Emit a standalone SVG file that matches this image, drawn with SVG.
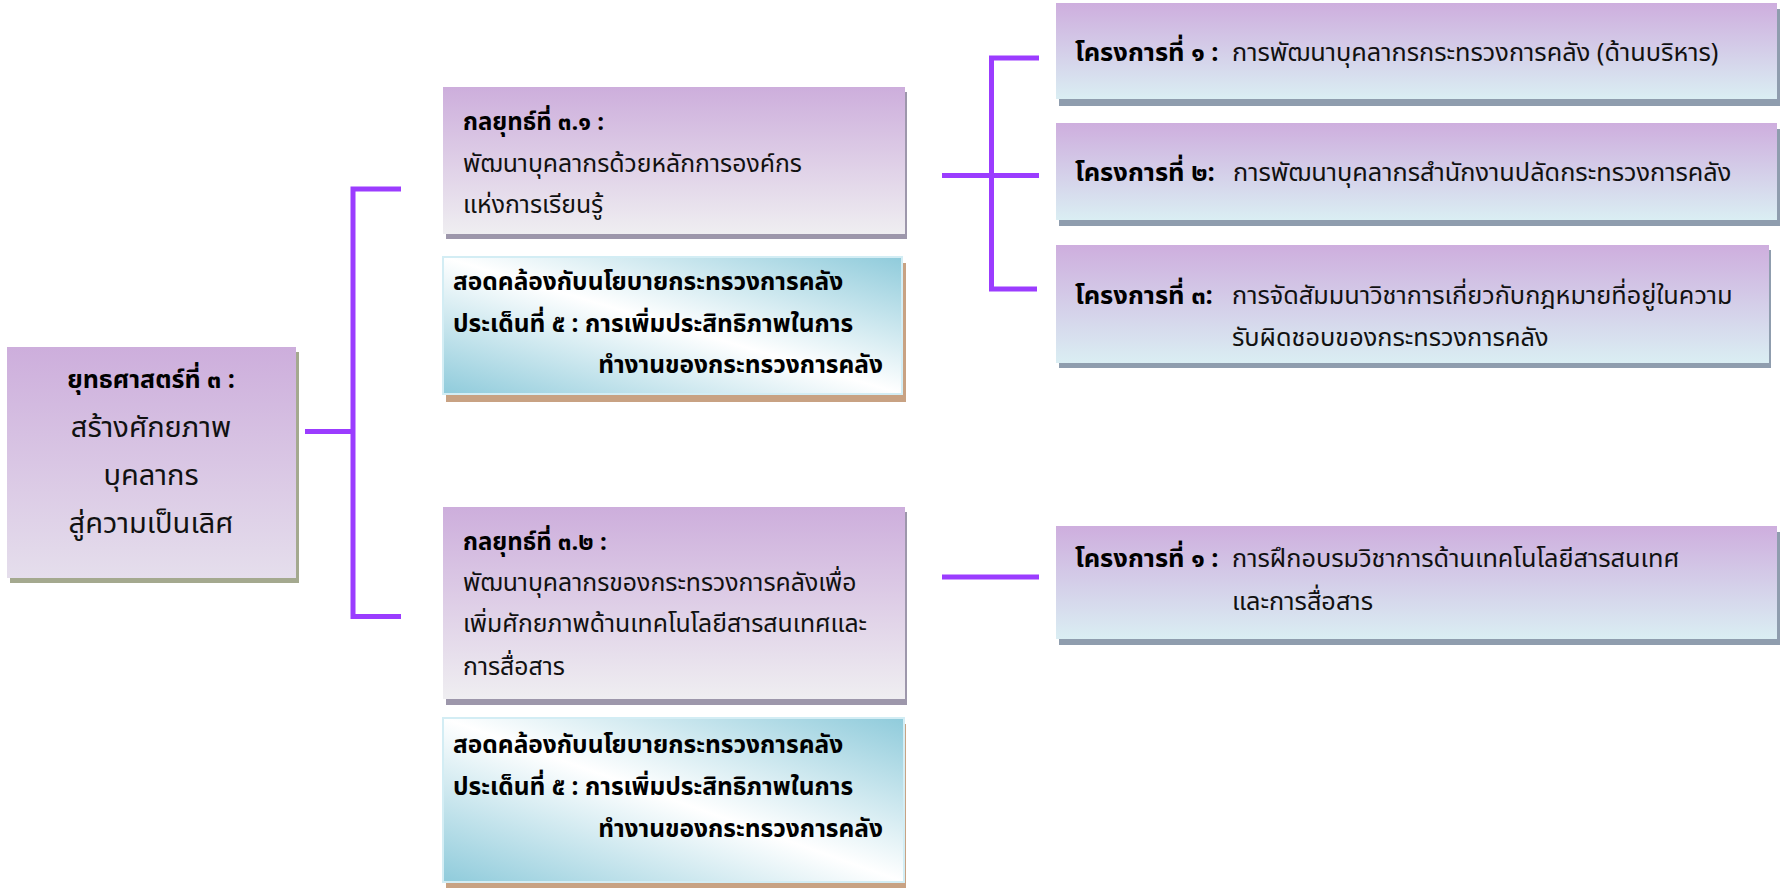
<svg xmlns="http://www.w3.org/2000/svg" width="1780" height="889" viewBox="0 0 1780 889">
<defs>
<linearGradient id="gLeft" x1="0" y1="0" x2="0" y2="1"><stop offset="0" stop-color="#CDAEDC"/><stop offset="1" stop-color="#E5DEEC"/></linearGradient>
<linearGradient id="gStrat" x1="0" y1="0" x2="0" y2="1"><stop offset="0" stop-color="#CDAEDC"/><stop offset="1" stop-color="#EFEEF1"/></linearGradient>
<linearGradient id="gProj" x1="0" y1="0" x2="0" y2="1"><stop offset="0" stop-color="#CEAEDE"/><stop offset="1" stop-color="#DAEEF3"/></linearGradient>
<linearGradient id="gPolicy" x1="0" y1="1" x2="1" y2="0"><stop offset="0" stop-color="#8FCBDB"/><stop offset="0.5" stop-color="#FFFFFF"/><stop offset="1" stop-color="#8FCBDB"/></linearGradient>
</defs>
<style>
text{font-family:"Noto Sans Thai","Noto Sans Thai Looped","Noto Sans","DejaVu Sans",sans-serif;fill:#111;}
.t{font-size:24.8px;}
.tj{font-size:25.3px;}
.tb{font-size:24px;font-weight:bold;fill:#000;}
.jb{font-size:25.5px;font-weight:bold;fill:#000;}
.lb{font-size:25px;font-weight:bold;fill:#000;}
.pb{font-size:24.5px;font-weight:bold;fill:#000;}
.big{font-size:29px;}
.conn{fill:none;stroke:#9B3CFF;stroke-width:5;stroke-linecap:butt;stroke-linejoin:miter;}
.shL{fill:#A4A98F;}
.shS{fill:#9D97AB;}
.shP{fill:#C8A283;}
.shJ{fill:#8F9DAE;}
</style>
<rect width="1780" height="889" fill="#FFFFFF"/>

<g id="connectors">
<path class="conn" d="M305,431.5 H353"/>
<path class="conn" d="M401,189 H353 V616.5 H401"/>
<path class="conn" d="M942,175.5 H1039"/>
<path class="conn" d="M1039,58 H991.5 V289 H1037"/>
<path class="conn" d="M942,577 H1039"/>
</g>

<g id="strategy3">
<rect class="shL" x="10" y="352" width="289" height="231"/>
<rect x="7" y="347" width="289" height="231" fill="url(#gLeft)"/>
<text class="lb" x="151" y="388" text-anchor="middle">ยุทธศาสตร์ที่ ๓ :</text>
<text class="big" x="151" y="437" text-anchor="middle">สร้างศักยภาพ</text>
<text class="big" x="151" y="485" text-anchor="middle">บุคลากร</text>
<text class="big" x="151" y="533" text-anchor="middle">สู่ความเป็นเลิศ</text>
</g>

<g id="tactic31">
<rect class="shS" x="446" y="92" width="461" height="147"/>
<rect x="443" y="87" width="462" height="147" fill="url(#gStrat)"/>
<text class="tb" x="463" y="130">กลยุทธ์ที่ ๓.๑ :</text>
<text class="t" x="463" y="172">พัฒนาบุคลากรด้วยหลักการองค์กร</text>
<text class="t" x="463" y="213">แห่งการเรียนรู้</text>
</g>

<g id="policy1">
<rect class="shP" x="446" y="263" width="460" height="139"/>
<rect x="443" y="257" width="459" height="137" fill="url(#gPolicy)" stroke="#D3EDF4" stroke-width="2"/>
<text class="pb" x="453" y="290">สอดคล้องกับนโยบายกระทรวงการคลัง</text>
<text class="pb" x="453" y="332">ประเด็นที่ ๕ : การเพิ่มประสิทธิภาพในการ</text>
<text class="pb" x="883" y="373" text-anchor="end">ทำงานของกระทรวงการคลัง</text>
</g>

<g id="tactic32">
<rect class="shS" x="446" y="512" width="461" height="193"/>
<rect x="443" y="507" width="462" height="192" fill="url(#gStrat)"/>
<text class="tb" x="463" y="550">กลยุทธ์ที่ ๓.๒ :</text>
<text class="t" x="463" y="591">พัฒนาบุคลากรของกระทรวงการคลังเพื่อ</text>
<text class="t" x="463" y="632">เพิ่มศักยภาพด้านเทคโนโลยีสารสนเทศและ</text>
<text class="t" x="463" y="675">การสื่อสาร</text>
</g>

<g id="policy2">
<rect class="shP" x="446" y="724" width="460" height="164"/>
<rect x="443" y="718" width="461" height="164" fill="url(#gPolicy)" stroke="#D3EDF4" stroke-width="2"/>
<text class="pb" x="453" y="753">สอดคล้องกับนโยบายกระทรวงการคลัง</text>
<text class="pb" x="453" y="795">ประเด็นที่ ๕ : การเพิ่มประสิทธิภาพในการ</text>
<text class="pb" x="883" y="837" text-anchor="end">ทำงานของกระทรวงการคลัง</text>
</g>

<g id="project1">
<rect class="shJ" x="1059" y="9" width="721" height="97"/>
<rect x="1056" y="3" width="721" height="96" fill="url(#gProj)"/>
<text class="jb" x="1075" y="61">โครงการที่ ๑ :</text>
<text class="tj" x="1232" y="61">การพัฒนาบุคลากรกระทรวงการคลัง (ด้านบริหาร)</text>
</g>

<g id="project2">
<rect class="shJ" x="1059" y="129" width="721" height="97"/>
<rect x="1056" y="123" width="721" height="97" fill="url(#gProj)"/>
<text class="jb" x="1075" y="181">โครงการที่ ๒:</text>
<text class="tj" x="1233" y="181">การพัฒนาบุคลากรสำนักงานปลัดกระทรวงการคลัง</text>
</g>

<g id="project3">
<rect class="shJ" x="1059" y="250" width="712" height="118"/>
<rect x="1056" y="245" width="713" height="118" fill="url(#gProj)"/>
<text class="jb" x="1075" y="304">โครงการที่ ๓:</text>
<text class="tj" x="1232" y="304">การจัดสัมมนาวิชาการเกี่ยวกับกฎหมายที่อยู่ในความ</text>
<text class="tj" x="1232" y="346">รับผิดชอบของกระทรวงการคลัง</text>
</g>

<g id="project4">
<rect class="shJ" x="1059" y="532" width="721" height="113"/>
<rect x="1056" y="526" width="721" height="113" fill="url(#gProj)"/>
<text class="jb" x="1075" y="567">โครงการที่ ๑ :</text>
<text class="tj" x="1232" y="567">การฝึกอบรมวิชาการด้านเทคโนโลยีสารสนเทศ</text>
<text class="tj" x="1232" y="610">และการสื่อสาร</text>
</g>
</svg>
